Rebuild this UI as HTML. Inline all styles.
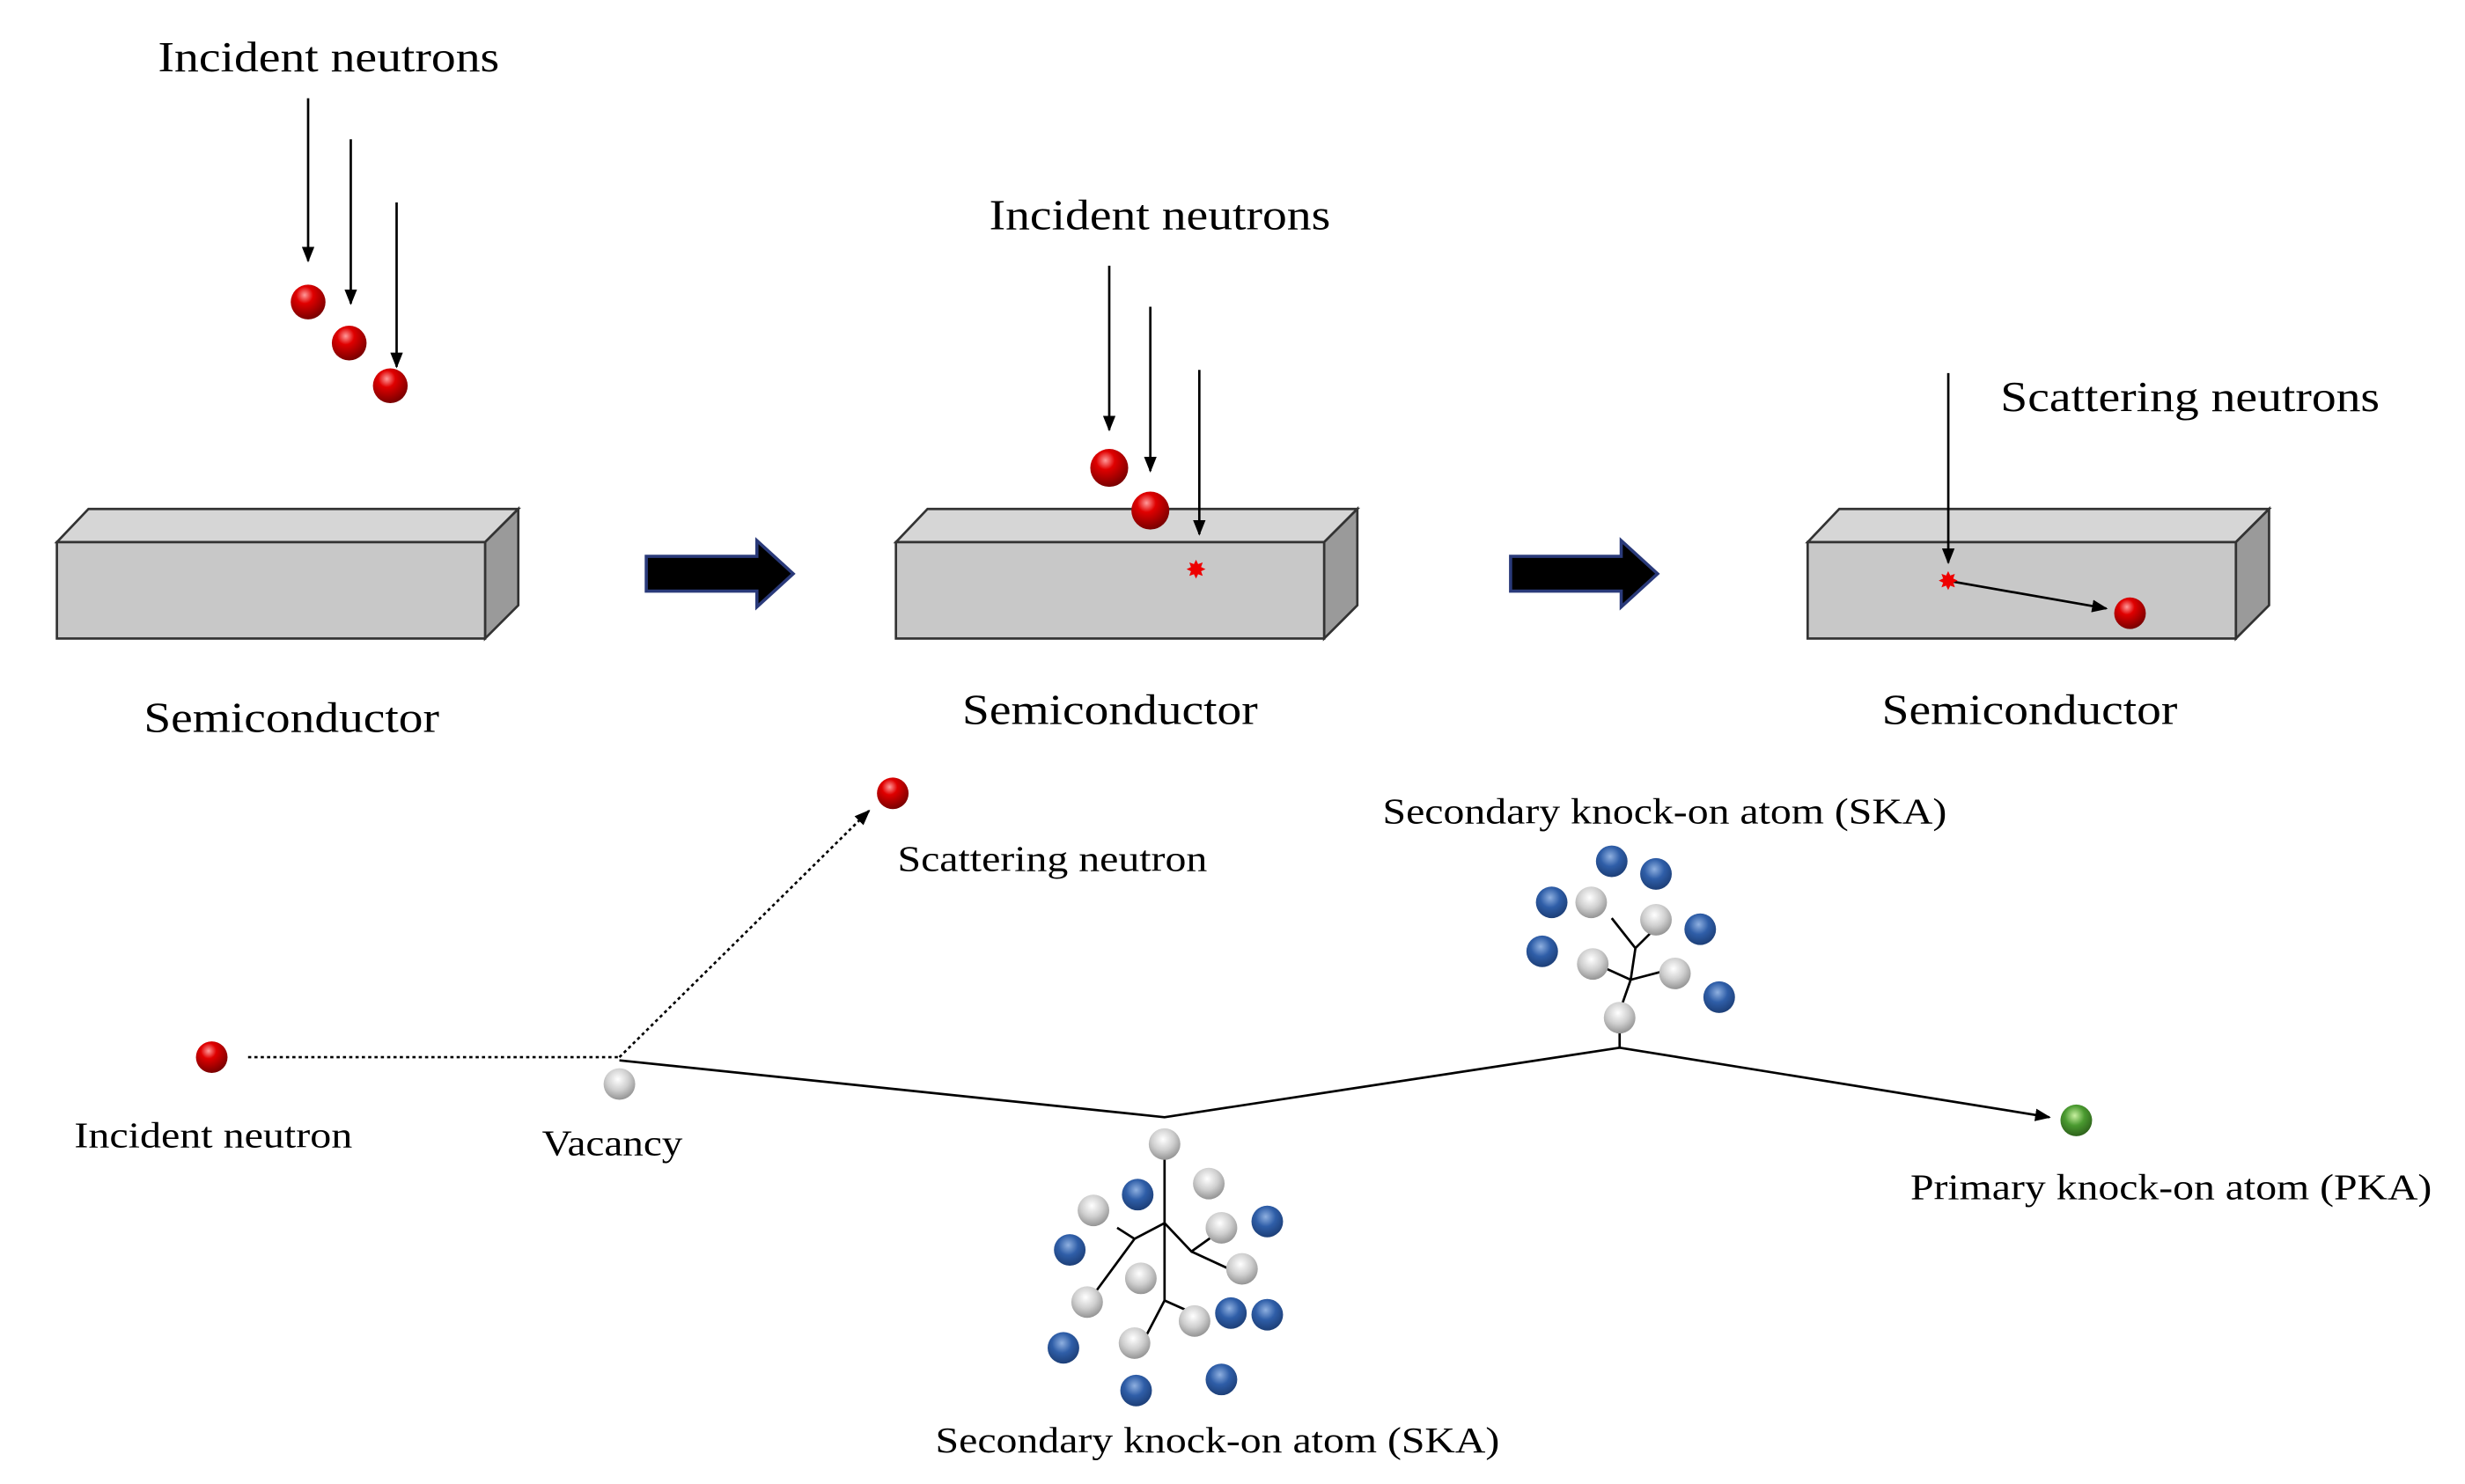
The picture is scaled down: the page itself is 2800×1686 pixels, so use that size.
<!DOCTYPE html>
<html><head><meta charset="utf-8"><style>html,body{margin:0;padding:0;background:#fff}svg{display:block}</style></head><body>
<svg width="2800" height="1686" viewBox="0 0 1560 939" xmlns="http://www.w3.org/2000/svg" font-family="Liberation Serif, serif">
<defs>
<radialGradient id="r" cx="0.4" cy="0.3" r="0.7"><stop offset="0" stop-color="#ff9a9a"/><stop offset="0.35" stop-color="#e00000"/><stop offset="1" stop-color="#7a0000"/></radialGradient>
<radialGradient id="w" cx="0.45" cy="0.35" r="0.7"><stop offset="0" stop-color="#ffffff"/><stop offset="0.5" stop-color="#cfcfcf"/><stop offset="1" stop-color="#8a8a8a"/></radialGradient>
<radialGradient id="b" cx="0.45" cy="0.35" r="0.7"><stop offset="0" stop-color="#8fb0e0"/><stop offset="0.45" stop-color="#2f5ea8"/><stop offset="1" stop-color="#1a3a70"/></radialGradient>
<radialGradient id="g" cx="0.45" cy="0.35" r="0.7"><stop offset="0" stop-color="#c8f0a0"/><stop offset="0.45" stop-color="#4a9a30"/><stop offset="1" stop-color="#2a5a18"/></radialGradient>
<marker id="a" markerWidth="10" markerHeight="8" refX="9" refY="4" orient="auto" markerUnits="userSpaceOnUse"><path d="M0,0 L10,4 L0,8 Z" fill="#000"/></marker>
<g id="box"><path d="M0,21 L20,0 L292,0 L271,21 Z" fill="#d6d6d6" stroke="#333" stroke-width="1.5"/><path d="M271,21 L292,0 L292,61 L271,82 Z" fill="#9a9a9a" stroke="#333" stroke-width="1.5"/><rect x="0" y="21" width="271" height="61" fill="#c8c8c8" stroke="#333" stroke-width="1.5"/></g>
<path id="big" d="M0,10 L70,10 L70,0 L93,21 L70,42 L70,32 L0,32 Z" fill="#000" stroke="#2a3a7a" stroke-width="2"/>
</defs>
<use href="#box" x="36" y="322"/><use href="#box" x="567" y="322"/><use href="#box" x="1144" y="322"/>
<use href="#big" x="409" y="342"/><use href="#big" x="956" y="342"/>
<g font-size="27">
<text x="100" y="45" textLength="216" lengthAdjust="spacingAndGlyphs">Incident neutrons</text>
<text x="626" y="145" textLength="216" lengthAdjust="spacingAndGlyphs">Incident neutrons</text>
<text x="1266" y="260" textLength="240" lengthAdjust="spacingAndGlyphs">Scattering neutrons</text>
<text x="91" y="463" textLength="187" lengthAdjust="spacingAndGlyphs">Semiconductor</text>
<text x="609" y="458" textLength="187" lengthAdjust="spacingAndGlyphs">Semiconductor</text>
<text x="1191" y="458" textLength="187" lengthAdjust="spacingAndGlyphs">Semiconductor</text>
</g>
<g fill="url(#r)">
<circle cx="195" cy="191" r="11"/><circle cx="221" cy="217" r="11"/><circle cx="247" cy="244" r="11"/>
<circle cx="702" cy="296" r="12"/><circle cx="728" cy="323" r="12"/><circle cx="1348" cy="388" r="10"/>
<circle cx="565" cy="502" r="10"/><circle cx="134" cy="669" r="10"/>
</g>
<g stroke="#000" stroke-width="1.5" fill="none" marker-end="url(#a)">
<line x1="195" y1="62" x2="195" y2="165"/><line x1="222" y1="88" x2="222" y2="192"/><line x1="251" y1="128" x2="251" y2="232"/>
<line x1="702" y1="168" x2="702" y2="272"/><line x1="728" y1="194" x2="728" y2="298"/><line x1="759" y1="234" x2="759" y2="338"/>
<line x1="1233" y1="236" x2="1233" y2="356"/><line x1="1236" y1="368" x2="1333" y2="385"/>
</g>
<g fill="#e00" font-size="16" text-anchor="middle"><text x="757" y="366">✸</text><text x="1233" y="373">✸</text></g>
<g font-size="23">
<text x="568" y="551" textLength="196" lengthAdjust="spacingAndGlyphs">Scattering neutron</text>
<text x="875" y="521" textLength="357" lengthAdjust="spacingAndGlyphs">Secondary knock-on atom (SKA)</text>
<text x="47" y="726" textLength="176" lengthAdjust="spacingAndGlyphs">Incident neutron</text>
<text x="343" y="731" textLength="89" lengthAdjust="spacingAndGlyphs">Vacancy</text>
<text x="1209" y="759" textLength="330" lengthAdjust="spacingAndGlyphs">Primary knock-on atom (PKA)</text>
<text x="592" y="919" textLength="357" lengthAdjust="spacingAndGlyphs">Secondary knock-on atom (SKA)</text>
</g>
<g stroke="#000" stroke-width="1.5" fill="none">
<line x1="157" y1="669" x2="392" y2="669" stroke-dasharray="2,2"/>
<line x1="392" y1="669" x2="550" y2="513" stroke-dasharray="2,2" marker-end="url(#a)"/>
<polyline points="392,671 737,707 1025,663 1297,707" marker-end="url(#a)"/>
<path d="M737,733 V823 M737,774 L718,784 L707,777 M718,784 L693,818 M737,774 L754,792 L768,782 M754,792 L780,804 M737,823 L755,831 M737,823 L725,846"/>
<path d="M1025,663 L1025,640 L1032,620 L1035,600 L1020,581 M1035,600 L1045,590 M1032,620 L1010,610 M1032,620 L1055,614"/>
</g>
<circle cx="392" cy="686" r="10" fill="url(#w)"/>
<circle cx="1314" cy="709" r="10" fill="url(#g)"/>
<g fill="url(#w)">
<circle cx="737" cy="724" r="10"/><circle cx="765" cy="749" r="10"/><circle cx="692" cy="766" r="10"/><circle cx="773" cy="777" r="10"/><circle cx="786" cy="803" r="10"/><circle cx="722" cy="809" r="10"/><circle cx="688" cy="824" r="10"/><circle cx="756" cy="836" r="10"/><circle cx="718" cy="850" r="10"/>
<circle cx="1007" cy="571" r="10"/><circle cx="1048" cy="582" r="10"/><circle cx="1008" cy="610" r="10"/><circle cx="1060" cy="616" r="10"/><circle cx="1025" cy="644" r="10"/>
</g>
<g fill="url(#b)">
<circle cx="720" cy="756" r="10"/><circle cx="802" cy="773" r="10"/><circle cx="677" cy="791" r="10"/><circle cx="779" cy="831" r="10"/><circle cx="802" cy="832" r="10"/><circle cx="673" cy="853" r="10"/><circle cx="773" cy="873" r="10"/><circle cx="719" cy="880" r="10"/>
<circle cx="1020" cy="545" r="10"/><circle cx="1048" cy="553" r="10"/><circle cx="982" cy="571" r="10"/><circle cx="1076" cy="588" r="10"/><circle cx="976" cy="602" r="10"/><circle cx="1088" cy="631" r="10"/>
</g>
</svg>
</body></html>
